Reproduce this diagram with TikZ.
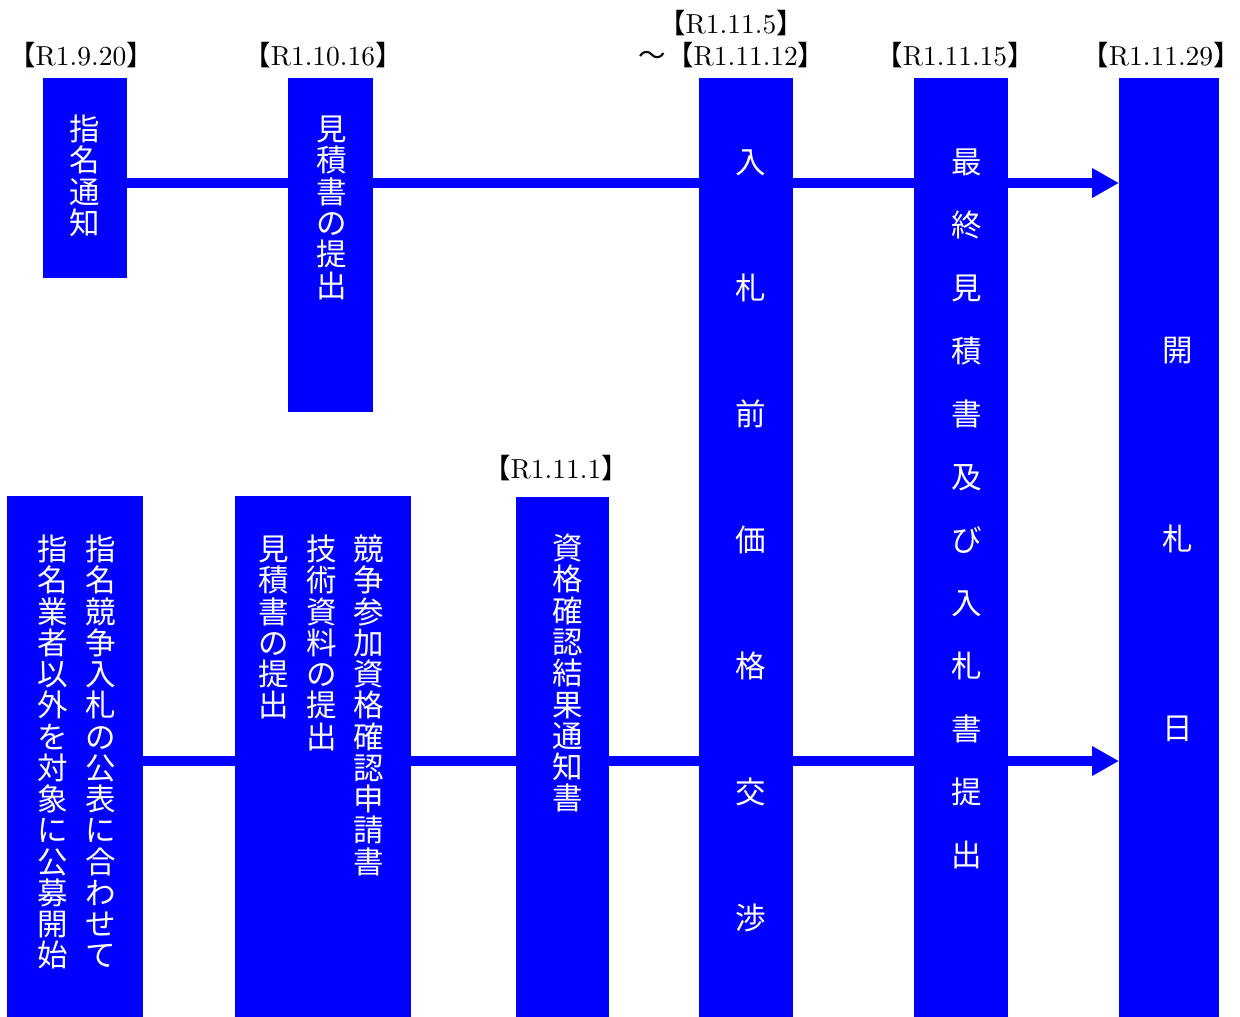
\documentclass[tikz,border=0pt]{standalone}
\usepackage{fontspec}
\newfontfamily\cjk{Noto Sans CJK JP}
\newfontfamily\lmten{lmroman10-regular.otf}
\usetikzlibrary{arrows.meta}
\definecolor{boxblue}{RGB}{0,0,255}
\tikzset{
  box/.style={fill=boxblue, draw=none, inner sep=0pt, outer sep=0pt, anchor=north west},
  vch/.style={text=white, font=\cjk\fontsize{30.5}{30.5}\selectfont, inner sep=0pt,
              text height=26.8pt, text depth=3.7pt},
  date/.style={font=\lmten\fontsize{27.5}{32}\selectfont, anchor=base, inner sep=0pt},
  link/.style={draw=boxblue, line width=10pt},
  arr/.style={link, -{Triangle[length=27pt,width=28pt]}},
}
\newcommand\vtext[5]{%
  \foreach \ch [count=\i] in {#5}{\node[vch] (#1-\i) at (#2,{#3+(\i-1)*#4}) {\ch};}}
\begin{document}
\begin{tikzpicture}[x=1pt,y=-1pt]
\useasboundingbox (0,0) rectangle (1240,1017);
% boxes
\node[box, minimum width=84pt, minimum height=200pt] (b1) at (43,78) {};
\node[box, minimum width=85pt, minimum height=334pt] (b2) at (288,78) {};
\node[box, minimum width=94pt, minimum height=939pt] (b3) at (699,78) {};
\node[box, minimum width=94pt, minimum height=939pt] (b4) at (914,78) {};
\node[box, minimum width=100pt, minimum height=939pt] (b5) at (1119,78) {};
\node[box, minimum width=136pt, minimum height=521pt] (b6) at (7,496) {};
\node[box, minimum width=176pt, minimum height=521pt] (b7) at (235,496) {};
\node[box, minimum width=93pt, minimum height=520pt] (b8) at (516,497) {};
% connector levels
\coordinate (top) at (0,183);
\coordinate (bot) at (0,761);
\draw[link] (b1.east |- top) -- (b2.west |- top);
\draw[link] (b2.east |- top) -- (b3.west |- top);
\draw[link] (b3.east |- top) -- (b4.west |- top);
\draw[arr]  (b4.east |- top) -- (b5.west |- top);
\draw[link] (b6.east |- bot) -- (b7.west |- bot);
\draw[link] (b7.east |- bot) -- (b8.west |- bot);
\draw[link] (b8.east |- bot) -- (b3.west |- bot);
\draw[link] (b3.east |- bot) -- (b4.west |- bot);
\draw[arr]  (b4.east |- bot) -- (b5.west |- bot);
% vertical texts
\vtext{t1}{85}{129}{31.3}{指,名,通,知}
\vtext{t2}{332}{129}{31.3}{見,積,書,の,提,出}
\vtext{t3}{751}{162}{126}{入,札,前,価,格,交,渉}
\vtext{t4}{967}{162}{63}{最,終,見,積,書,及,び,入,札,書,提,出}
\vtext{t5}{1178}{350}{189}{開,札,日}
\vtext{t6a}{101}{549}{31.25}{指,名,競,争,入,札,の,公,表,に,合,わ,せ,て}
\vtext{t6b}{53}{549}{31.25}{指,名,業,者,以,外,を,対,象,に,公,募,開,始}
\vtext{t7a}{369}{549}{31.25}{競,争,参,加,資,格,確,認,申,請,書}
\vtext{t7b}{322}{549}{31.25}{技,術,資,料,の,提,出}
\vtext{t7c}{274}{549}{31.25}{見,積,書,の,提,出}
\vtext{t8}{568}{548}{31.3}{資,格,確,認,結,果,通,知,書}
% dates
\node[date] (d1) at (81,65) {{\cjk 【}R1.9.20{\cjk 】}};
\node[date] (d2) at (323,65) {{\cjk 【}R1.10.16{\cjk 】}};
\node[date] (d3a) at (731,33) {{\cjk 【}R1.11.5{\cjk 】}};
\node[date] (d3b) at (732,65) {{\cjk ～【}R1.11.12{\cjk 】}};
\node[date] (d4) at (955,65) {{\cjk 【}R1.11.15{\cjk 】}};
\node[date] (d5) at (1161,65) {{\cjk 【}R1.11.29{\cjk 】}};
\node[date] (d8) at (556,478) {{\cjk 【}R1.11.1{\cjk 】}};
\end{tikzpicture}
\end{document}
